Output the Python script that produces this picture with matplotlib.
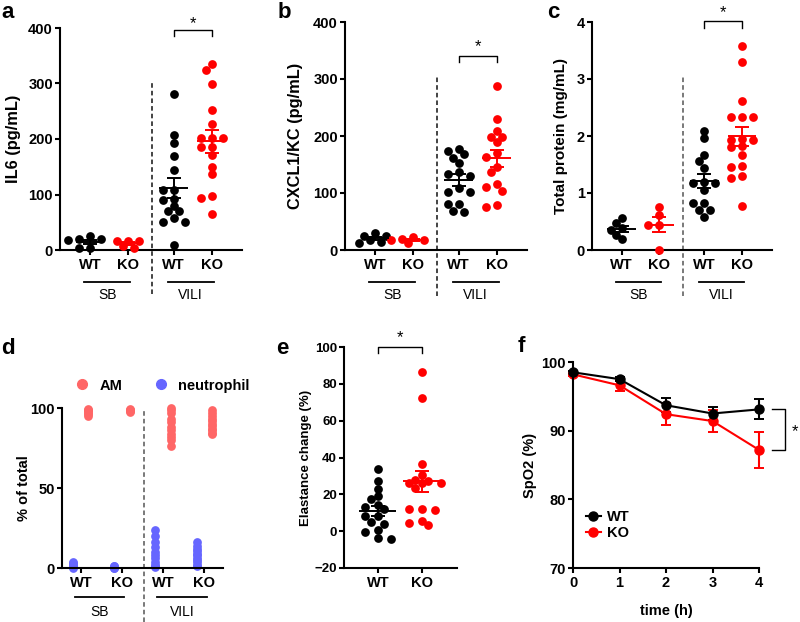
import numpy as np
import matplotlib
matplotlib.use('Agg')
import matplotlib.pyplot as plt
from matplotlib.lines import Line2D
from matplotlib.transforms import blended_transform_factory, ScaledTranslation

plt.rcParams['font.family'] = ['Liberation Sans', 'DejaVu Sans']
plt.rcParams['font.weight'] = 'bold'
plt.rcParams['axes.labelweight'] = 'bold'
plt.rcParams['axes.linewidth'] = 1.5

RED = '#ff0000'
AM_COLOR = '#ff6666'
NEU_COLOR = '#6666ff'

# ---- data ----
group_ticks = ['WT', 'KO', 'WT', 'KO']
group_names = ['SB', 'VILI']

il6_sb_wt = [26, 20, 19, 18, 4, 4]
il6_sb_ko = [17, 17, 16, 8, 3]
il6_vili_wt = [281, 208, 192, 170, 145, 108, 108, 92, 90, 79, 71, 71, 57, 50, 50, 9]
il6_vili_ko = [336, 324, 299, 252, 227, 202, 202, 202, 185, 185, 172, 150, 137, 98, 93, 64]

kc_sb_wt = [29, 25, 25, 17, 14, 13]
kc_sb_ko = [23, 20, 18, 17, 12]
kc_vili_wt = [178, 174, 168, 162, 153, 136, 133, 129, 108, 102, 101, 80, 80, 68, 66]
kc_vili_ko = [287, 229, 208, 198, 198, 190, 170, 163, 146, 137, 116, 110, 104, 79, 76]

prot_sb_wt = [0.57, 0.48, 0.38, 0.35, 0.27, 0.19]
prot_sb_ko = [0.75, 0.61, 0.43, 0.43, 0.0]
prot_vili_wt = [2.09, 1.96, 1.66, 1.57, 1.44, 1.20, 1.18, 1.17, 1.05, 0.83, 0.82, 0.71, 0.70, 0.58]
prot_vili_ko = [3.58, 3.29, 2.61, 2.34, 2.33, 2.33, 1.95, 1.93, 1.93, 1.82, 1.80, 1.67, 1.47, 1.46, 1.30, 1.27, 0.78]

am_sb_wt = [99.5, 98.8, 98, 97, 96, 95]
am_sb_ko = [99.5, 99, 98.5, 98, 97.5]
am_vili_wt = [100, 99, 97, 93, 91, 88, 86, 84, 82, 80, 76]
am_vili_ko = [98.5, 97, 95, 93, 92, 90, 89, 87, 86, 84.5, 83.5]
neu_sb_wt = [4, 3, 2, 1, 0.5, 0.2]
neu_sb_ko = [1.5, 1, 0.5, 0.3, 0.2]
neu_vili_wt = [23.5, 20, 16, 13, 10, 8, 6, 4, 2, 1, 0.5]
neu_vili_ko = [16.5, 14, 12, 10.5, 9, 8, 6.5, 5, 3.5, 2, 1]

el_wt = [33.8, 27.1, 23.1, 19.0, 17.5, 14.2, 13.0, 12.2, 8.0, 8.0, 5.0, 4.1, 0.8, -0.6, -3.5, -4.1]
el_ko = [86.4, 72.1, 36.5, 30.7, 28.0, 27.5, 26.2, 26.2, 26.0, 23.2, 12.2, 12.2, 11.7, 5.3, 4.4, 3.5]

time_h = [0, 1, 2, 3, 4]
spo2_wt = [98.5, 97.5, 93.7, 92.5, 93.1]
spo2_wt_sem = [0.2, 0.25, 1.0, 0.9, 1.45]
spo2_ko = [98.2, 96.6, 92.4, 91.4, 87.2]
spo2_ko_sem = [0.2, 0.8, 1.6, 1.6, 2.6]

fig = plt.figure(figsize=(8, 6.22), dpi=100)


def px_axes(l, t, r, b):
    return fig.add_axes([l / 800, 1 - b / 622, (r - l) / 800, (b - t) / 622])


def swarm(vals, ypx, xpx, step, diam=7.0):
    # beeswarm in pixel space, half-column nudges until a dot is clear of the others
    vals = np.sort(np.asarray(vals, dtype=float))[::-1]
    placed = []
    cands = [0, -0.5, 0.5, -1, 1, -1.5, 1.5, -2, 2, -2.5, 2.5]
    for v in vals:
        y = v * ypx
        for k in cands:
            x = k * step
            if all((x - a) ** 2 + (y - b) ** 2 >= diam ** 2 for a, b in placed):
                break
        placed.append((x, y))
    xs = np.array([p[0] for p in placed]) / xpx
    return xs, vals


def dot_groups(ax, groups, colors, pos, ypx, xpx, step, half=0.38, cap=5):
    for vals, c, p in zip(groups, colors, pos):
        vals = np.asarray(vals, dtype=float)
        off, yy = swarm(vals, ypx, xpx, step)
        ax.plot(p + off, yy, 'o', color=c, ms=6.3, mec='none', clip_on=False, zorder=3)
        m = vals.mean()
        se = vals.std(ddof=1) / np.sqrt(len(vals))
        ax.hlines(m, p - half, p + half, color=c, lw=1.4, zorder=4)
        ax.errorbar(p, m, yerr=se, color=c, lw=1.4, capsize=cap, capthick=1.4,
                    fmt='none', zorder=4)


def style(ax, ysize=10.5, xsize=10.5):
    for s in ['top', 'right']:
        ax.spines[s].set_visible(False)
    ax.tick_params(length=3.6, width=1.5, direction='out')
    ax.tick_params(axis='y', labelsize=ysize, pad=1.5)
    ax.tick_params(axis='x', labelsize=xsize, pad=2)


def group_labels(ax, pos, line_dy, text_dy):
    base = blended_transform_factory(ax.transData, ax.transAxes)
    for name, (x0, x1) in zip(group_names, [(pos[0], pos[1]), (pos[2], pos[3])]):
        tl = base + ScaledTranslation(0, -line_dy / 72, fig.dpi_scale_trans)
        tt = base + ScaledTranslation(0, -text_dy / 72, fig.dpi_scale_trans)
        ax.plot([x0 - 0.15, x1 + 0.05], [0, 0], color='k', lw=1.3, transform=tl, clip_on=False)
        ax.text((x0 + x1) / 2 - 0.05, 0, name, transform=tt, ha='center', va='center',
                fontsize=10, fontweight='normal')


def bracket(ax, x0, x1, y, leg, star_y):
    ax.plot([x0, x0, x1, x1], [y - leg, y, y, y - leg], color='k', lw=1.0, clip_on=False)
    ax.text((x0 + x1) / 2, star_y, '*', ha='center', va='center', fontsize=12,
            fontweight='normal')


pos = [0, 1, 2.2, 3.2]

# ---- a, b, c ----
specs = [
    ((60, 28, 242, 250), [il6_sb_wt, il6_sb_ko, il6_vili_wt, il6_vili_ko], 400, [0, 100, 200, 300, 400],
     'IL6 (pg/mL)', 11.8, -0.214, '#111111', (397, 12, 408)),
    ((345, 22, 527, 250), [kc_sb_wt, kc_sb_ko, kc_vili_wt, kc_vili_ko], 400, [0, 100, 200, 300, 400],
     'CXCL1/KC (pg/mL)', 11.8, -0.231, '#111111', (340, 10, 357)),
    ((592, 22, 772, 250), [prot_sb_wt, prot_sb_ko, prot_vili_wt, prot_vili_ko], 4, [0, 1, 2, 3, 4],
     'Total protein (mg/mL)', 11, -0.133, '#555555', (4.02, 0.12, 4.16)),
]
for box, groups, ymax, yt, ylab, lsize, lx, dash_c, br in specs:
    ax = px_axes(*box)
    h = box[3] - box[1]
    ax.set_xlim(-0.79, 4.0)
    ax.set_ylim(0, ymax)
    ax.set_yticks(yt)
    ax.set_xticks(pos, group_ticks)
    style(ax)
    dot_groups(ax, groups, ['k', RED, 'k', RED], pos, h / ymax, 38, 11)
    ax.axvline(1.63, ymin=-0.2, ymax=0.76, color=dash_c, lw=1.1, ls=(0, (3, 2)), clip_on=False)
    ax.set_ylabel(ylab, fontsize=lsize)
    ax.yaxis.set_label_coords(lx, 0.5)
    group_labels(ax, pos, 23, 32.5)
    bracket(ax, pos[2], pos[3], br[0], br[1], br[2])

# ---- d ----
ax = px_axes(62, 408, 223, 568)
ax.set_xlim(-0.46, 3.45)
ax.set_ylim(0, 100)
ax.set_yticks([0, 50, 100])
ax.set_xticks([0, 1, 2, 3], group_ticks)
style(ax, ysize=10.5, xsize=10.5)
for p, am, neu in zip([0, 1, 2, 3], [am_sb_wt, am_sb_ko, am_vili_wt, am_vili_ko],
                      [neu_sb_wt, neu_sb_ko, neu_vili_wt, neu_vili_ko]):
    ax.plot(np.full(len(am), p + 0.18), am, 'o', color=AM_COLOR, ms=6.3, mec='none', clip_on=False)
    ax.plot(np.full(len(neu), p - 0.19), neu, 'o', color=NEU_COLOR, ms=6.3, mec='none', clip_on=False)
ax.axvline(1.54, ymin=-0.34, ymax=0.99, color='#555555', lw=1.1, ls=(0, (3, 2)), clip_on=False)
ax.set_ylabel('% of total', fontsize=10.5)
ax.yaxis.set_label_coords(-0.193, 0.5)
group_labels(ax, [0, 1, 2, 3], 21, 31.5)
handles = [Line2D([], [], marker='o', ls='none', color=AM_COLOR, ms=7, label='AM'),
           Line2D([], [], marker='o', ls='none', color=NEU_COLOR, ms=7, label='neutrophil')]
ax.legend(handles=handles, ncol=2, frameon=False, loc='center', bbox_to_anchor=(0.6, 1.14),
          handletextpad=0.2, columnspacing=1.6, prop={'size': 10.5, 'weight': 'bold'})

# ---- e ----
ax = px_axes(344, 347, 457, 568)
ax.set_xlim(-0.77, 1.8)
ax.set_ylim(-20, 100)
ax.set_yticks(range(-20, 101, 20))
ax.set_xticks([0, 1], ['WT', 'KO'])
style(ax, ysize=9.5, xsize=10.5)
dot_groups(ax, [el_wt, el_ko], ['k', RED], [0, 1], 221 / 120, 44, 13, half=0.42, cap=5)
ax.set_ylabel('Elastance change (%)', fontsize=9.5)
ax.yaxis.set_label_coords(-0.283, 0.5)
bracket(ax, 0, 1, 100, 3.5, 105)

# ---- f ----
ax = px_axes(573, 362, 759, 568)
ax.set_xlim(0, 4)
ax.set_ylim(70, 100)
ax.set_yticks([70, 80, 90, 100])
ax.set_xticks(time_h)
style(ax, ysize=10.5, xsize=10.5)
ax.errorbar(time_h, spo2_ko, yerr=spo2_ko_sem, fmt='-o', color=RED, ms=6.5, lw=1.5,
            capsize=3.5, capthick=1.4, clip_on=False)
ax.errorbar(time_h, spo2_wt, yerr=spo2_wt_sem, fmt='-o', color='k', ms=6.5, lw=1.5,
            capsize=3.5, capthick=1.4, clip_on=False)
ax.plot([4.28, 4.56, 4.56, 4.28], [spo2_wt[-1], spo2_wt[-1], spo2_ko[-1], spo2_ko[-1]],
        color='k', lw=1.0, clip_on=False)
ax.text(4.78, (spo2_wt[-1] + spo2_ko[-1]) / 2 - 0.3, '*', ha='center', va='center',
        fontsize=12, fontweight='normal')
handles = [Line2D([], [], marker='o', color='k', ms=6.5, lw=1.5, label='WT'),
           Line2D([], [], marker='o', color=RED, ms=6.5, lw=1.5, label='KO')]
ax.legend(handles=handles, loc='center left', bbox_to_anchor=(0.0, 0.21), frameon=False,
          handlelength=1.0, handletextpad=0.4, labelspacing=0.15,
          prop={'size': 10.5, 'weight': 'bold'})
ax.set_ylabel('SpO2 (%)', fontsize=10.5)
ax.yaxis.set_label_coords(-0.194, 0.5)
ax.set_xlabel('time (h)', fontsize=10.5, labelpad=10)

# ---- panel letters ----
for letter, x, y in [('a', 1, 12), ('b', 278, 12), ('c', 547, 12),
                     ('d', 1, 348), ('e', 276, 349), ('f', 518, 347)]:
    fig.text(x / 800, 1 - y / 622, letter, fontsize=16, fontweight='bold', ha='left', va='center')

fig.savefig('out.png', dpi=100)
